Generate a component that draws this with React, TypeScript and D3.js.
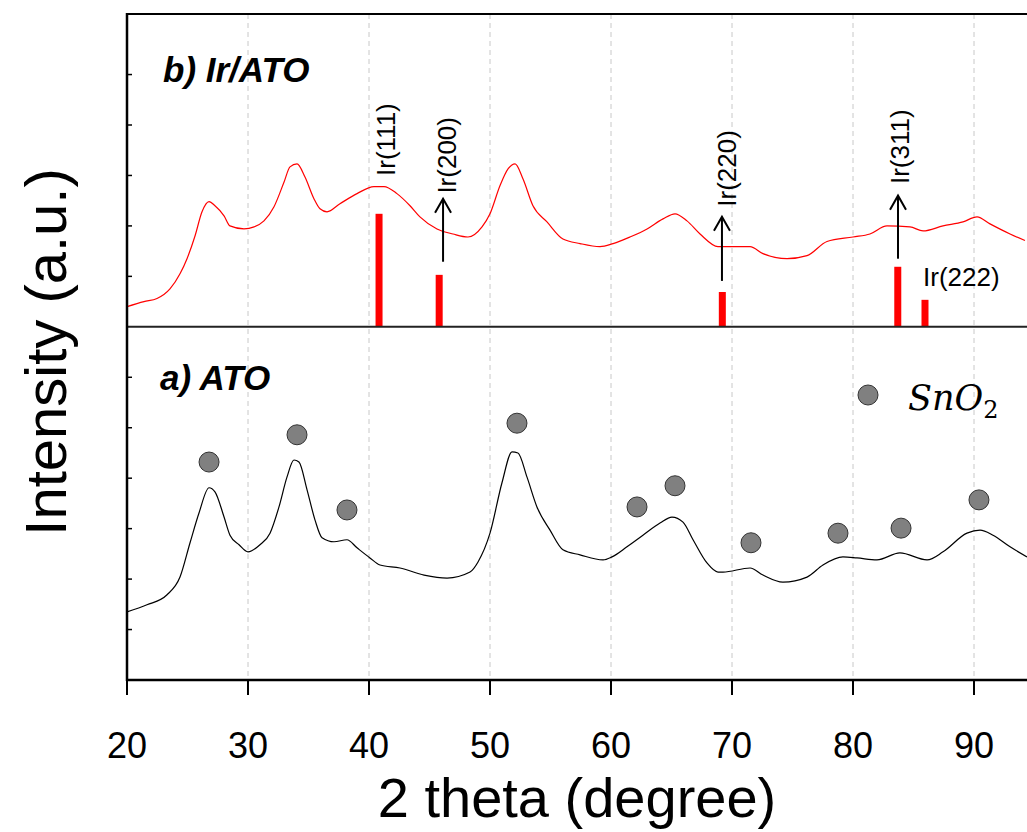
import React from 'react';
import * as d3 from 'd3';

// 2 theta (deg) and intensity (a.u.)
const atoTheta = [20.0, 21.65, 23.31, 24.38, 25.21, 25.95, 26.78, 27.27, 28.02, 28.51, 29.26, 30.0, 30.99, 31.82, 32.56, 33.22, 33.8, 34.21, 34.88, 35.54, 36.12, 37.11, 38.18, 39.01, 40.08, 40.91, 42.56, 44.55, 46.45, 48.35, 49.01, 50.0, 50.99, 51.82, 52.31, 53.06, 53.88, 54.96, 56.03, 57.44, 59.34, 60.08, 61.32, 62.64, 64.05, 65.04, 65.95, 66.78, 67.93, 68.84, 69.26, 71.49, 72.56, 74.21, 76.2, 77.52, 79.17, 80.33, 81.98, 83.88, 86.12, 87.44, 89.42, 90.5, 91.57, 92.98, 94.38];
const atoInt = [1.35, 1.49, 1.69, 2.04, 2.72, 3.31, 3.81, 3.73, 3.23, 2.87, 2.68, 2.54, 2.68, 2.91, 3.43, 4.02, 4.36, 4.32, 3.77, 3.17, 2.82, 2.74, 2.78, 2.62, 2.42, 2.28, 2.22, 2.08, 2.02, 2.14, 2.34, 2.91, 3.91, 4.52, 4.5, 4.02, 3.43, 2.97, 2.58, 2.48, 2.38, 2.44, 2.64, 2.87, 3.11, 3.23, 3.13, 2.78, 2.32, 2.14, 2.14, 2.22, 2.08, 1.94, 2.04, 2.28, 2.44, 2.42, 2.38, 2.52, 2.38, 2.54, 2.91, 2.97, 2.87, 2.64, 2.44];

const irTheta = [20.0, 21.4, 22.48, 23.55, 24.38, 24.96, 25.62, 26.2, 26.78, 27.27, 28.02, 28.51, 29.67, 30.5, 31.32, 32.15, 32.98, 33.47, 34.05, 34.71, 35.45, 35.95, 36.53, 37.6, 39.01, 40.41, 41.24, 42.31, 43.39, 44.21, 45.62, 46.94, 48.18, 49.34, 50.0, 50.83, 51.49, 52.07, 52.73, 53.55, 54.71, 56.03, 57.44, 59.09, 60.17, 61.57, 62.98, 64.3, 65.29, 66.28, 67.36, 68.84, 69.83, 71.49, 72.56, 74.55, 76.2, 77.85, 80.0, 81.4, 82.81, 84.71, 85.79, 87.44, 89.09, 90.25, 91.32, 92.98, 94.21];
const irInt = [0.4, 0.5, 0.56, 0.75, 1.05, 1.35, 1.8, 2.28, 2.48, 2.4, 2.2, 2.0, 1.94, 1.98, 2.1, 2.38, 2.87, 3.17, 3.23, 2.97, 2.54, 2.34, 2.28, 2.44, 2.64, 2.78, 2.78, 2.64, 2.4, 2.18, 1.94, 1.84, 1.78, 1.98, 2.24, 2.8, 3.13, 3.23, 2.93, 2.4, 2.08, 1.74, 1.65, 1.59, 1.65, 1.78, 1.94, 2.14, 2.24, 2.1, 1.84, 1.59, 1.59, 1.59, 1.45, 1.35, 1.41, 1.69, 1.78, 1.84, 2.0, 1.98, 1.9, 2.0, 2.08, 2.18, 2.04, 1.84, 1.71];
const irOffset = 7;

// Ir reference pattern
const refLabels = ['Ir(111)', 'Ir(200)', 'Ir(220)', 'Ir(311)', 'Ir(222)'];
const refTheta = [40.83, 45.8, 69.2, 83.7, 85.95];
const refInt = [2.24, 1.03, 0.69, 1.19, 0.535];

// annotations: label position, arrow x, arrow bottom/top (relative to Ir baseline)
const labelTheta = [41.4, 46.45, 69.6, 83.9, 85.79];
const labelInt = [2.99, 2.64, 2.38, 2.83, 0.81];
const labelRotated = [true, true, true, true, false];
const arrowTheta = [null, 46.12, 69.17, 83.72, null];
const arrowFrom = [null, 1.29, 0.91, 1.35, null];
const arrowTo = [null, 2.54, 2.18, 2.6, null];

// SnO2 markers
const snTheta = [26.78, 34.05, 38.18, 52.23, 62.15, 65.29, 71.57, 78.76, 83.97, 90.41];
const snInt = [4.32, 4.86, 3.37, 5.09, 3.43, 3.85, 2.72, 2.91, 3.01, 3.57];

const xTicks = [20, 30, 40, 50, 60, 70, 80, 90];
const yTicks = [1, 2, 3, 4, 5, 6, 8, 9, 10, 11, 12];

const W = 1027;
const H = 832;
const L = 127, R = 1027, T = 14, B = 680;

export default function App() {
  const x = d3.scaleLinear().domain([20, 94.38]).range([L, R]);
  const y = d3.scaleLinear().domain([0, 13.2]).range([B, T]);
  const line = d3.line<[number, number]>().x(d => x(d[0])).y(d => y(d[1])).curve(d3.curveMonotoneX);
  const atoPath = line(atoTheta.map((t, i) => [t, atoInt[i]]))!;
  const irPath = line(irTheta.map((t, i) => [t, irInt[i] + irOffset]))!;
  const font = '"Liberation Sans", Arial, sans-serif';

  return (
    <svg width={W} height={H} style={{ position: 'absolute', left: 0, top: 0 }} fontFamily={font}>
      <rect width={W} height={H} fill="#fff" />
      <defs>
        <clipPath id="plot"><rect x={L} y={T} width={R - L} height={B - T} /></clipPath>
      </defs>
      {xTicks.filter(t => t > 20).map(t => (
        <line key={t} x1={x(t)} x2={x(t)} y1={T} y2={B} stroke="#c8c8c8" strokeWidth={1} strokeDasharray="5,4" />
      ))}

      <g clipPath="url(#plot)">
        <path d={irPath} fill="none" stroke="#ff0000" strokeWidth={1.2} />
        <path d={atoPath} fill="none" stroke="#000" strokeWidth={1.2} />
      </g>

      {refTheta.map((t, i) => (
        <rect key={i} x={x(t) - 3.5} y={y(refInt[i] + irOffset)} width={7} height={y(irOffset) - y(refInt[i] + irOffset)} fill="#ff0000" />
      ))}

      {refLabels.map((lab, i) => {
        const px = x(labelTheta[i]);
        const py = y(labelInt[i] + irOffset);
        return labelRotated[i] ? (
          <text key={lab} transform={`translate(${px},${py}) rotate(-90)`} dy="0.35em" fontSize={26}>{lab}</text>
        ) : (
          <text key={lab} x={px} y={py} fontSize={26}>{lab}</text>
        );
      })}

      {arrowTheta.map((t, i) => {
        if (t === null) return null;
        const ax = x(t);
        const y0 = y(arrowFrom[i]! + irOffset);
        const y1 = y(arrowTo[i]! + irOffset);
        return (
          <g key={i} stroke="#000" strokeWidth={2} fill="none">
            <line x1={ax} x2={ax} y1={y0} y2={y1} />
            <polyline points={`${ax - 8},${y1 + 14} ${ax},${y1} ${ax + 8},${y1 + 14}`} />
          </g>
        );
      })}

      {snTheta.map((t, i) => (
        <circle key={i} cx={x(t)} cy={y(snInt[i])} r={10} fill="#808080" stroke="#333" strokeWidth={1} />
      ))}

      {/* frame */}
      <line x1={L} x2={R} y1={T} y2={T} stroke="#000" strokeWidth={2} />
      <line x1={L} x2={R} y1={y(irOffset)} y2={y(irOffset)} stroke="#222" strokeWidth={2} />
      <line x1={L} x2={R} y1={B} y2={B} stroke="#000" strokeWidth={2.5} />
      <line x1={L} x2={L} y1={T - 1} y2={B + 1} stroke="#000" strokeWidth={2.5} />

      {yTicks.map(t => (
        <line key={t} x1={L} x2={L + 5} y1={y(t)} y2={y(t)} stroke="#000" strokeWidth={1.5} />
      ))}
      {xTicks.map(t => (
        <g key={t}>
          <line x1={x(t)} x2={x(t)} y1={B} y2={B + 15} stroke="#000" strokeWidth={2} />
          <text x={x(t)} y={B + 78} textAnchor="middle" fontSize={36}>{t}</text>
        </g>
      ))}

      <text x={163} y={82} fontSize={35} fontWeight="bold" fontStyle="italic">b) Ir/ATO</text>
      <text x={160} y={390} fontSize={35} fontWeight="bold" fontStyle="italic">a) ATO</text>

      <circle cx={868} cy={395} r={10} fill="#808080" stroke="#333" strokeWidth={1} />
      <text x={908} y={410} fontSize={35} fontFamily='"DejaVu Serif", serif' fontStyle="italic">
        SnO<tspan fontStyle="normal" fontSize={24} dy={8}>2</tspan>
      </text>

      <text x={577} y={817} textAnchor="middle" fontSize={56}>2 theta (degree)</text>
      <text transform={`translate(66,352) rotate(-90)`} textAnchor="middle" fontSize={58}>Intensity (a.u.)</text>
    </svg>
  );
}
